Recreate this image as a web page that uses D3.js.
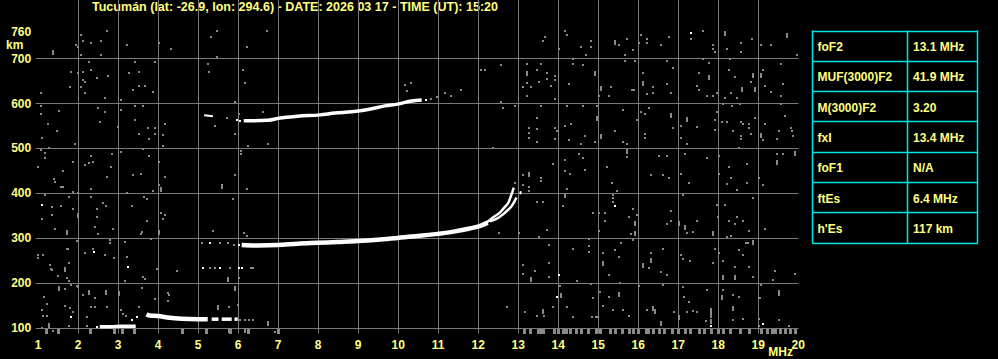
<!DOCTYPE html>
<html>
<head>
<meta charset="utf-8">
<script src="https://cdn.jsdelivr.net/npm/d3@7"></script>
<style>
body { margin: 0; background: #000; }
svg { display: block; }
</style>
</head>
<body>
<svg id="iono" width="998" height="359"></svg>
<script>
// header + axis ticks
const titleText = "Tucumán (lat: -26.9, lon: 294.6) - DATE: 2026 03 17 - TIME (UT): 15:20";
const freqTicks = [1, 2, 3, 4, 5, 6, 7, 8, 9, 10, 11, 12, 13, 14, 15, 16, 17, 18, 19, 20];
const kmTicks = [100, 200, 300, 400, 500, 600, 700, 760];
const gridFreq = [2, 3, 4, 5, 6, 7, 8, 9, 10, 11, 12, 13, 14, 15, 16, 17, 18, 19];
const gridKm = [100, 200, 300, 400, 500, 600, 700];

// scaled parameters table
const paramNames = ["foF2", "MUF(3000)F2", "M(3000)F2", "fxI", "foF1", "ftEs", "h'Es"];
const paramValues = ["13.1 MHz", "41.9 MHz", "3.20", "13.4 MHz", "N/A", "6.4 MHz", "117 km"];

// F2 trace (MHz, km)
const f2Main = [[6.1, 284], [6.5, 283], [7.0, 284], [7.5, 287], [8.0, 289], [8.5, 291], [9.0, 293],
    [9.5, 296], [10.0, 300], [10.5, 304], [11.0, 309], [11.4, 314], [11.8, 321], [12.1, 328], [12.25, 334]];
const f2Ordinary = [[12.22, 334], [12.39, 346], [12.56, 357], [12.68, 369], [12.77, 379], [12.83, 393], [12.88, 406], [12.9, 412]];
const f2Extra = [[12.3, 337], [12.52, 345], [12.64, 353], [12.74, 361], [12.85, 371], [12.93, 383], [12.97, 390]];
const f2ExtraTop = [[13.06, 397], [13.08, 404]];

// second hop F2
const hop2Short = [[5.16, 573], [5.38, 571]];
const hop2 = [[6.15, 561], [6.4, 561], [6.76, 562], [7.06, 567], [7.5, 571], [8.06, 574], [8.43, 578],
    [8.85, 581], [9.26, 586], [9.68, 594], [10.0, 598], [10.35, 605], [10.6, 607]];

// E and Es traces
const eLayer = [[2.55, 102], [2.8, 102], [3.1, 103], [3.45, 103]];
const esLayer = [[3.72, 130], [3.8, 127], [4.0, 126], [4.3, 122], [4.6, 120], [5.0, 119], [5.25, 119]];
const esBlocks = [[[5.35, 119], [5.52, 119]], [[5.6, 119], [5.85, 119]], [[5.92, 119], [6.0, 119]]];

// weak echoes
const whiteDots = [[2.47, 101], [3.35, 117], [3.47, 123], [5.12, 233], [5.56, 233], [6.03, 232], [6.1, 232],
    [5.3, 289], [6.03, 284], [1.11, 373], [2.41, 269], [3.26, 235], [1.83, 123], [13.98, 169], [14.02, 218],
    [15.43, 370], [17.33, 757], [19.14, 108], [17.83, 104], [10.7, 608], [5.99, 562], [6.06, 561]];
const grayDots = [[6.06, 118], [6.17, 118], [6.28, 118], [6.39, 118], [5.3, 233], [5.42, 233], [5.8, 233], [6.39, 232],
    [5.1, 289], [5.55, 289], [5.75, 289], [5.9, 284], [10.82, 610], [10.98, 614], [11.18, 623], [11.33, 617], [11.58, 629],
    [10.18, 640], [10.22, 628], [10.33, 644],
    // 500-760 km, low band
    [2.08, 752], [2.72, 761], [1.95, 730], [2.14, 739], [2.33, 735], [2.58, 739], [2.01, 726], [2.08, 707],
    [2.58, 707], [3.22, 730], [4.03, 735], [4.33, 721], [5.47, 761], [5.33, 748], [5.47, 704], [6.22, 726],
    [6.72, 761], [2.28, 692], [1.83, 670], [2.14, 670], [2.33, 674], [2.01, 667], [2.47, 657], [2.75, 661],
    [2.14, 652], [2.18, 647], [1.81, 635], [2.08, 637], [2.18, 622], [1.08, 622], [2.68, 611], [3.08, 607],
    [3.43, 692], [3.28, 667], [3.53, 670], [3.93, 692], [3.39, 629], [3.53, 638], [3.68, 638],
    [3.89, 626], [5.26, 687], [5.28, 670], [6.14, 674], [6.18, 644], [5.93, 603], [1.08, 594],
    [1.08, 576], [1.53, 583], [1.26, 554], [1.47, 537], [1.11, 523], [1.28, 500], [1.08, 496], [1.18, 488],
    [1.18, 477], [1.01, 457], [1.41, 431], [1.64, 448], [1.89, 470], [1.93, 509], [2.51, 590], [2.68, 581],
    [2.56, 559], [3.08, 585], [3.43, 594], [3.64, 594], [3.43, 563], [3.76, 544], [3.93, 544],
    [3.01, 546], [3.53, 532], [3.78, 520], [3.93, 532], [4.14, 529], [4.18, 554], [4.14, 505], [2.33, 483],
    [2.18, 462], [2.28, 466], [2.39, 470], [2.86, 487], [2.83, 457], [2.72, 435], [3.08, 492], [3.64, 497],
    [3.78, 483], [4.03, 470], [3.39, 439], [3.58, 442], [4.18, 435], [5.43, 549], [5.93, 532], [6.26, 505],
    [6.75, 509], [6.08, 494], [6.08, 486], [5.93, 439], [5.72, 566], [6.03, 576], [6.64, 581],
    // 500-760 km, high band
    [13.69, 748], [13.64, 739], [14.19, 761], [14.23, 752], [14.02, 721], [14.59, 726], [14.83, 739],
    [14.83, 726], [14.7, 707], [15.54, 730], [15.73, 743], [15.89, 718], [15.69, 707],
    [16.08, 752], [16.04, 735], [16.23, 743], [16.23, 735], [16.58, 730], [16.77, 748], [17.33, 744],
    [17.63, 761], [17.88, 730], [17.88, 721], [17.94, 713], [18.23, 721], [18.58, 735], [18.58, 713],
    [18.85, 743], [19.08, 730], [19.33, 730], [19.98, 707], [12.08, 674], [12.19, 674], [12.58, 684],
    [13.23, 687], [13.48, 674], [13.58, 687], [13.73, 667], [13.73, 655], [13.93, 661],
    [13.93, 652], [13.53, 648], [13.23, 644], [13.13, 635], [13.33, 635], [13.83, 638], [13.23, 617],
    [13.93, 609], [14.38, 698], [14.38, 687], [14.63, 684], [14.28, 643], [15.33, 635], [15.03, 617],
    [15.28, 617], [15.69, 693], [15.94, 693], [16.13, 667], [16.38, 635], [16.23, 620], [16.38, 622],
    [15.85, 629], [15.9, 629], [16.73, 693], [16.88, 679], [16.73, 643], [16.83, 622], [17.63, 698], [17.77, 689],
    [17.52, 667], [17.48, 638], [17.54, 629], [17.73, 617], [17.89, 617], [17.98, 622], [18.31, 698],
    [18.27, 674], [18.43, 659], [18.83, 648], [19.13, 674], [19.19, 638], [19.33, 626], [19.58, 687],
    [19.63, 643], [19.58, 617], [18.33, 622], [18.48, 611], [18.19, 611],
    [12.58, 603], [12.63, 589], [12.93, 594], [13.48, 566], [13.28, 544], [13.28, 533], [13.28, 523],
    [13.48, 542], [13.48, 514], [13.93, 544], [13.93, 520], [13.98, 537], [13.58, 594], [14.23, 594],
    [14.19, 549], [14.33, 554], [14.28, 518], [14.63, 594], [14.69, 527], [14.59, 509], [14.98, 594],
    [14.93, 514], [15.44, 537], [15.63, 585], [15.63, 514], [15.73, 509], [15.98, 563], [16.08, 581],
    [16.18, 577], [16.29, 589], [16.18, 532], [16.18, 523], [16.89, 544], [17.08, 549], [17.08, 523],
    [17.23, 509], [17.48, 546], [17.94, 563], [17.94, 540], [17.98, 581], [18.1, 559], [18.23, 559],
    [18.38, 537], [18.58, 559], [18.63, 554], [18.79, 554], [18.79, 544], [18.83, 532], [18.58, 527],
    [18.58, 520], [18.94, 566], [19.19, 554], [19.13, 518], [19.52, 537], [19.48, 520], [19.83, 544],
    [19.85, 537], [19.88, 526], [19.68, 572], [19.58, 598], [18.14, 598], [18.35, 594], [18.56, 598],
    [12.38, 500], [13.13, 439], [13.58, 434], [13.88, 465], [14.19, 474], [14.19, 448], [14.31, 442],
    [14.54, 487], [14.63, 479], [14.69, 451], [15.23, 457], [15.73, 481], [16.33, 439], [16.54, 483],
    [16.73, 483], [16.63, 439], [16.77, 434], [17.08, 442], [17.18, 487], [17.73, 479], [18.04, 483],
    [18.04, 442], [18.29, 457], [18.33, 434], [18.54, 500], [18.73, 465], [19.49, 487], [19.63, 487],
    [19.04, 434],
    // below 430 km, low band
    [1.58, 414], [1.62, 414], [1.43, 425], [2.01, 401], [1.89, 403], [2.33, 408], [2.33, 392], [1.78, 392],
    [1.18, 396], [1.36, 368], [1.58, 370], [1.89, 364], [2.47, 364], [2.64, 377], [2.7, 370], [2.47, 347],
    [1.36, 351], [1.11, 341], [1.43, 319], [2.43, 325], [2.5, 308], [2.89, 319], [3.22, 401], [3.36, 370],
    [3.66, 392], [3.72, 386], [3.87, 404], [4.03, 418], [4.08, 356], [4.18, 351], [4.12, 341], [3.72, 338],
    [3.61, 314], [3.58, 309], [6.22, 409], [5.89, 387], [5.37, 315], [6.16, 310], [6.22, 304],
    [1.98, 292], [2.81, 295], [2.81, 288], [3.18, 290], [3.83, 297], [1.01, 262], [1.01, 255], [1.14, 262],
    [1.72, 275], [1.76, 275], [2.39, 275], [2.18, 267], [2.68, 262], [2.91, 255], [3.22, 257], [1.78, 245],
    [1.31, 240], [1.33, 230], [1.36, 229], [1.5, 215], [1.72, 210], [1.78, 203], [1.83, 195], [2.01, 190],
    [1.97, 193], [1.68, 186], [1.16, 169], [2.14, 173], [2.43, 166], [3.18, 203], [3.64, 212], [3.68, 208],
    [3.97, 230], [3.61, 188], [4.25, 177], [4.28, 173], [4.25, 160], [3.93, 165], [4.47, 227], [6.03, 210],
    [6.33, 232], [1.22, 153], [1.11, 140], [1.14, 126], [1.22, 126], [1.68, 149], [1.81, 143], [1.89, 136],
    [1.78, 104], [2.22, 123], [2.22, 104], [2.33, 145], [2.43, 145], [2.72, 145], [3.08, 140], [3.14, 131],
    [3.2, 126], [3.53, 145], [1.11, 99], [1.39, 93], [5.78, 146], [6.01, 151], [6.93, 91],
    // below 430 km, high band
    [12.94, 423], [13.13, 418], [13.27, 414], [13.27, 405], [13.58, 427], [14.23, 410], [14.13, 370],
    [13.48, 379], [13.64, 379], [13.04, 312], [12.54, 312], [13.74, 318], [13.52, 303], [14.88, 356],
    [15.02, 356], [15.19, 356], [15.19, 338], [15.38, 396], [15.38, 388], [15.38, 379], [15.48, 405],
    [15.02, 316], [15.79, 347], [15.88, 364], [15.98, 351], [15.83, 309], [15.88, 295], [15.35, 423],
    [16.83, 361], [16.73, 331], [16.83, 338], [17.48, 338], [17.38, 314], [17.23, 312], [17.13, 396],
    [17.29, 423], [17.98, 373], [18.19, 373], [18.0, 347], [18.23, 420], [18.29, 338], [18.43, 331],
    [18.48, 347], [18.48, 407], [18.73, 423], [18.77, 316], [18.63, 338], [18.88, 388], [19.19, 319],
    [19.13, 418], [18.33, 304], [18.23, 301], [13.79, 284], [14.38, 275], [14.77, 297], [14.79, 281],
    [14.77, 269], [15.14, 267], [15.43, 272], [15.54, 258], [15.58, 288], [15.27, 218], [16.33, 267],
    [16.27, 232], [16.58, 223], [16.63, 275], [16.73, 218], [17.08, 262], [17.31, 249], [17.13, 252],
    [17.94, 275], [18.02, 267], [17.88, 245], [18.13, 249], [18.43, 236], [18.52, 273], [18.71, 288],
    [18.75, 288], [18.64, 262], [18.79, 235], [18.89, 212], [19.43, 227], [19.39, 206], [19.93, 220],
    [13.79, 214], [13.77, 244], [13.13, 240], [13.43, 227], [13.14, 220], [14.06, 192], [14.48, 205],
    [14.83, 197], [15.06, 180], [15.29, 169], [15.56, 199], [14.89, 166], [16.02, 192], [16.63, 195],
    [17.14, 190], [17.16, 168], [17.29, 158], [17.73, 183], [18.13, 183], [18.38, 173], [18.54, 169],
    [19.08, 195], [19.02, 166], [19.06, 166], [12.73, 145], [13.19, 136], [13.48, 126], [13.66, 125],
    [13.89, 145], [14.23, 145], [14.38, 123], [14.85, 123], [14.96, 123], [15.0, 123], [15.13, 148],
    [15.38, 140], [15.63, 140], [15.79, 125], [16.23, 140], [16.91, 134], [17.23, 136], [17.38, 138],
    [17.48, 134], [17.71, 116], [18.39, 117], [18.63, 119], [19.03, 119], [19.52, 117], [19.79, 104],
    [19.52, 173], [19.02, 104]];

// taller specks (2 x 5 px)
const tallDots = [[1.38, 713], [15.44, 737], [18.17, 757], [19.73, 752], [13.23, 667], [14.93, 668],
    [15.08, 633], [16.13, 644], [17.77, 659], [18.6, 631], [18.88, 663], [18.94, 631], [19.08, 663],
    [14.98, 566], [15.08, 526], [16.83, 574], [17.23, 564], [19.08, 529], [13.28, 442], [15.73, 494],
    [19.48, 468], [19.93, 490], [2.01, 351], [1.72, 314], [4.08, 408], [4.03, 314], [5.61, 416],
    [1.68, 230], [1.53, 188], [2.28, 180], [2.7, 180], [3.03, 177], [5.76, 208], [5.93, 188],
    [1.28, 106], [5.51, 147], [5.78, 94], [6.18, 94], [6.76, 110], [14.17, 396], [15.93, 333],
    [15.92, 310], [17.02, 333], [17.18, 324], [17.88, 310], [15.14, 244], [16.13, 240], [16.33, 251],
    [18.13, 214], [18.43, 212], [18.88, 290], [13.33, 208], [14.08, 173], [15.54, 175], [18.1, 169],
    [19.52, 180], [13.63, 138], [16.38, 143], [16.43, 138], [16.58, 111], [17.02, 123], [18.39, 143],
    [17.83, 140], [17.83, 128], [17.83, 116]];

// clutter along the bottom edge
const bottomDots = [13.15, 13.3, 13.5, 13.58, 13.62, 13.9, 14.0, 14.12, 14.2, 14.3, 14.45, 14.58, 14.75,
    14.95, 15.06, 15.3, 15.42, 15.6, 15.78, 15.88, 16.0, 16.2, 16.25, 16.38, 16.52, 16.66, 16.85, 17.0,
    17.18, 17.3, 17.52, 17.66, 17.83, 18.0, 18.12, 18.3, 18.55, 18.78, 19.07, 19.23, 19.35, 19.42, 19.55,
    19.68, 19.8, 19.93, 1.2, 1.5, 2.3, 2.9, 3.1, 3.4, 4.6, 5.2, 5.8, 6.25, 7.0];

const yellow = "#ffff80";
const frameYellow = "#ffff33";
const gridGray = "#7a7a7a";
const speckGray = "#8a8a8a";
const cyan = "#00e6e6";

var svg = d3.select("#iono");
svg.append("rect").attr("width", 998).attr("height", 359).attr("fill", "#000");

var xScale = d3.scaleLinear().domain([1, 20]).range([37.7, 797.7]);
var yScale = d3.scaleLinear().domain([100, 700]).range([327.7, 58.3]);

var left = xScale(0.95), right = xScale(20.02), top = yScale(764), bottom = yScale(87);

//title
svg.append("text")
    .attr("x", 295)
    .attr("y", 11)
    .attr("text-anchor", "middle")
    .attr("font-family", "Liberation Sans, Arial, sans-serif")
    .attr("font-weight", "bold")
    .attr("font-size", "12px")
    .attr("fill", yellow)
    .attr("textLength", 406)
    .attr("lengthAdjust", "spacingAndGlyphs")
    .text(titleText);

//grid
svg.append("g").selectAll("line.v")
    .data(gridFreq)
    .enter().append("line")
    .attr("x1", d => Math.round(xScale(d)) + 0.5)
    .attr("x2", d => Math.round(xScale(d)) + 0.5)
    .attr("y1", top).attr("y2", bottom)
    .attr("stroke", gridGray).attr("stroke-width", 1);

svg.append("g").selectAll("line.h")
    .data(gridKm)
    .enter().append("line")
    .attr("x1", left).attr("x2", right)
    .attr("y1", d => Math.round(yScale(d)) + 0.5)
    .attr("y2", d => Math.round(yScale(d)) + 0.5)
    .attr("stroke", gridGray).attr("stroke-width", 1);

//noise specks
var plot = svg.append("g");

plot.selectAll("rect.g")
    .data(grayDots)
    .enter().append("rect")
    .attr("x", d => Math.round(xScale(d[0])) - 1)
    .attr("y", d => Math.round(yScale(d[1])) - 1)
    .attr("width", 2).attr("height", 2)
    .attr("fill", speckGray);

plot.selectAll("rect.t")
    .data(tallDots)
    .enter().append("rect")
    .attr("x", d => Math.round(xScale(d[0])) - 1)
    .attr("y", d => Math.round(yScale(d[1])) - 2)
    .attr("width", 2).attr("height", 5)
    .attr("fill", speckGray);

plot.selectAll("rect.b")
    .data(bottomDots)
    .enter().append("rect")
    .attr("x", d => Math.round(xScale(d)) - 1)
    .attr("y", Math.round(yScale(97)))
    .attr("width", 3).attr("height", 5)
    .attr("fill", speckGray);

//traces
var line = d3.line()
    .x(d => xScale(d[0]))
    .y(d => yScale(d[1]))
    .curve(d3.curveMonotoneX);

function drawTrace(pts, w, color) {
    plot.append("path")
        .attr("d", line(pts))
        .attr("fill", "none")
        .attr("stroke", color || "#fff")
        .attr("stroke-width", w)
        .attr("stroke-linecap", "butt");
}

drawTrace(f2Main, 4.5);
drawTrace(f2Ordinary, 2.5);
drawTrace(f2Extra, 2.5);
drawTrace(f2ExtraTop, 2);
drawTrace(hop2, 3.5);
drawTrace(hop2Short, 2);
drawTrace(eLayer, 3.5);
drawTrace(esLayer, 4.5);
esBlocks.forEach(b => drawTrace(b, 3.5));

plot.selectAll("rect.w")
    .data(whiteDots)
    .enter().append("rect")
    .attr("x", d => Math.round(xScale(d[0])) - 1)
    .attr("y", d => Math.round(yScale(d[1])) - 1)
    .attr("width", 2).attr("height", 2)
    .attr("fill", "#fff");

//frame
svg.append("rect")
    .attr("x", left).attr("y", top)
    .attr("width", right - left).attr("height", bottom - top)
    .attr("fill", "none")
    .attr("stroke", frameYellow)
    .attr("stroke-width", 1.5);

//axes
var xAxis = d3.axisBottom(xScale).tickValues(freqTicks).tickSize(0).tickPadding(6.5);
var xAxisGroup = svg.append("g")
    .attr("transform", `translate(0, ${bottom})`)
    .call(xAxis);

var yAxis = d3.axisLeft(yScale).tickValues(kmTicks).tickSize(0).tickPadding(4.5);
var yAxisGroup = svg.append("g")
    .attr("transform", `translate(${left}, 0)`)
    .call(yAxis);

[xAxisGroup, yAxisGroup].forEach(g => {
    g.select(".domain").remove();
    g.selectAll("text")
        .attr("fill", yellow)
        .attr("font-family", "Liberation Sans, Arial, sans-serif")
        .attr("font-weight", "bold")
        .attr("font-size", "12px");
});

svg.append("text")
    .attr("x", 6).attr("y", 49)
    .attr("font-family", "Liberation Sans, Arial, sans-serif")
    .attr("font-weight", "bold").attr("font-size", "12px")
    .attr("fill", yellow)
    .text("km");

svg.append("text")
    .attr("x", 793).attr("y", 356)
    .attr("text-anchor", "end")
    .attr("font-family", "Liberation Sans, Arial, sans-serif")
    .attr("font-weight", "bold").attr("font-size", "12px")
    .attr("fill", yellow)
    .text("MHz");

//parameter table
var tableLeft = 812.5, tableMid = 907.5, tableRight = 977.5, tableTop = 30.5, rowH = 30.3;
var table = svg.append("g");

table.selectAll("line.row")
    .data(d3.range(paramNames.length + 1))
    .enter().append("line")
    .attr("x1", tableLeft).attr("x2", tableRight)
    .attr("y1", i => Math.round(tableTop + i * rowH) + 0.5)
    .attr("y2", i => Math.round(tableTop + i * rowH) + 0.5)
    .attr("stroke", cyan).attr("stroke-width", 1.5);

[tableLeft, tableMid, tableRight].forEach(x => {
    table.append("line")
        .attr("x1", x).attr("x2", x)
        .attr("y1", tableTop).attr("y2", Math.round(tableTop + paramNames.length * rowH) + 0.5)
        .attr("stroke", cyan).attr("stroke-width", 1.5);
});

table.selectAll("text.name")
    .data(paramNames)
    .enter().append("text")
    .attr("x", 817.5)
    .attr("y", (d, i) => tableTop + i * rowH + 20.5)
    .attr("font-family", "Liberation Sans, Arial, sans-serif")
    .attr("font-weight", "bold").attr("font-size", "12px")
    .attr("fill", yellow)
    .text(d => d);

table.selectAll("text.value")
    .data(paramValues)
    .enter().append("text")
    .attr("x", 913)
    .attr("y", (d, i) => tableTop + i * rowH + 20.5)
    .attr("font-family", "Liberation Sans, Arial, sans-serif")
    .attr("font-weight", "bold").attr("font-size", "12px")
    .attr("fill", yellow)
    .text(d => d);
</script>
</body>
</html>
